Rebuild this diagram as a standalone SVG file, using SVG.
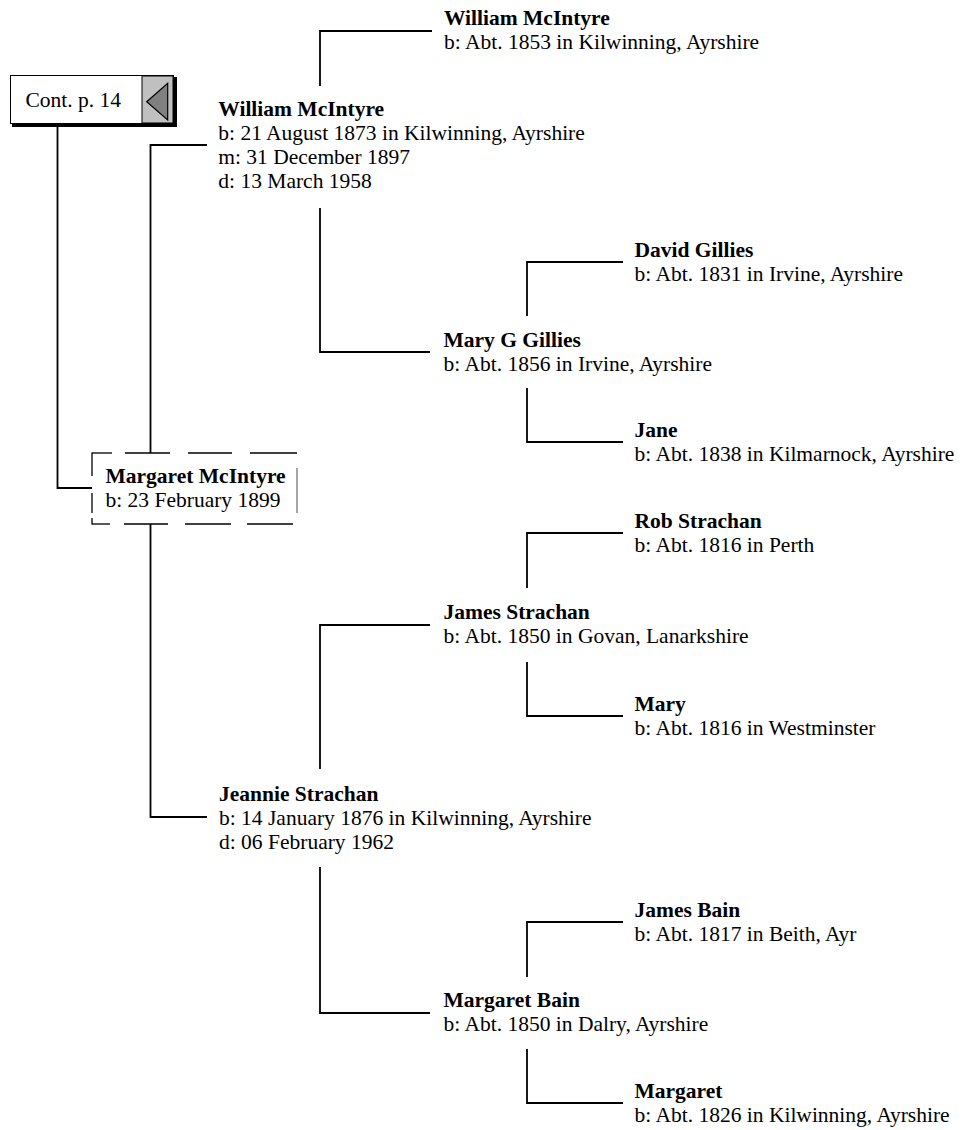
<svg xmlns="http://www.w3.org/2000/svg" width="963" height="1130" viewBox="0 0 963 1130">
<style>
text{font-family:'Liberation Serif',Tinos,'Times New Roman',Times,serif;font-size:21.5px;fill:#000}
.n{font-weight:bold}
.c{fill:none;stroke:#000;stroke-width:1.8}
.d{stroke:#000;stroke-width:1.3}
</style>
<rect width="963" height="1130" fill="#fff"/>
<g id="connectors">
<path class="c" d="M57.5,127 V488 H92"/>
<path class="c" d="M207,145 H150.5 V453"/>
<path class="c" d="M150.5,524 V817 H207"/>
<path class="c" d="M432,31 H320 V86"/>
<path class="c" d="M320,208 V352 H430"/>
<path class="c" d="M623,262 H527 V316"/>
<path class="c" d="M527,388 V442 H623"/>
<path class="c" d="M623,533 H527 V588"/>
<path class="c" d="M430,625 H320 V769"/>
<path class="c" d="M527,662 V716 H623"/>
<path class="c" d="M320,867 V1013 H430"/>
<path class="c" d="M623,922 H527 V977"/>
<path class="c" d="M527,1049 V1103 H623"/>
</g>
<g id="cont">
<rect x="12" y="77" width="165" height="50" fill="#000"/>
<rect x="10.5" y="75.5" width="163" height="48" fill="#fff" stroke="#000" stroke-width="1"/>
<rect x="142" y="76" width="31" height="47" fill="#c0c0c0" stroke="#000" stroke-width="1"/>
<polygon points="146.7,101.7 167.7,83.3 167.7,120" fill="#808080" stroke="#000" stroke-width="1.2"/>
<text x="25.5" y="106.7">Cont. p. 14</text>
</g>
<g id="margaret-mcintyre">
<g class="d">
<line x1="92" y1="453" x2="112" y2="453"/>
<line x1="125" y1="453" x2="170" y2="453"/>
<line x1="188" y1="453" x2="232" y2="453"/>
<line x1="250" y1="453" x2="297" y2="453"/>
<line x1="92" y1="524" x2="110" y2="524"/>
<line x1="124" y1="524" x2="168" y2="524"/>
<line x1="185" y1="524" x2="231" y2="524"/>
<line x1="247" y1="524" x2="293" y2="524"/>
<line x1="92" y1="452.4" x2="92" y2="476"/>
<line x1="92" y1="493" x2="92" y2="513"/>
<line x1="92" y1="518" x2="92" y2="524.6"/>
</g>
<line x1="297" y1="468" x2="297" y2="513" stroke="#888" stroke-width="1.5"/>
<text class="n" x="105.5" y="482.5">Margaret McIntyre</text>
<text x="105.5" y="506.5">b: 23 February 1899</text>
</g>
<g id="william-mcintyre-sr">
<text class="n" x="444" y="25">William McIntyre</text>
<text x="444" y="49">b: Abt. 1853 in Kilwinning, Ayrshire</text>
</g>
<g id="william-mcintyre">
<text class="n" x="218.3" y="116">William McIntyre</text>
<text x="218.3" y="140">b: 21 August 1873 in Kilwinning, Ayrshire</text>
<text x="218.3" y="164">m: 31 December 1897</text>
<text x="218.3" y="188">d: 13 March 1958</text>
</g>
<g id="david-gillies">
<text class="n" x="634.5" y="257">David Gillies</text>
<text x="634.5" y="281">b: Abt. 1831 in Irvine, Ayrshire</text>
</g>
<g id="mary-g-gillies">
<text class="n" x="443.5" y="347">Mary G Gillies</text>
<text x="443.5" y="371">b: Abt. 1856 in Irvine, Ayrshire</text>
</g>
<g id="jane">
<text class="n" x="634.5" y="437">Jane</text>
<text x="634.5" y="461">b: Abt. 1838 in Kilmarnock, Ayrshire</text>
</g>
<g id="rob-strachan">
<text class="n" x="634.5" y="528">Rob Strachan</text>
<text x="634.5" y="552">b: Abt. 1816 in Perth</text>
</g>
<g id="james-strachan">
<text class="n" x="443.5" y="619">James Strachan</text>
<text x="443.5" y="643">b: Abt. 1850 in Govan, Lanarkshire</text>
</g>
<g id="mary">
<text class="n" x="634.5" y="711">Mary</text>
<text x="634.5" y="735">b: Abt. 1816 in Westminster</text>
</g>
<g id="jeannie-strachan">
<text class="n" x="219" y="801">Jeannie Strachan</text>
<text x="219" y="825">b: 14 January 1876 in Kilwinning, Ayrshire</text>
<text x="219" y="849">d: 06 February 1962</text>
</g>
<g id="james-bain">
<text class="n" x="634.5" y="917">James Bain</text>
<text x="634.5" y="941">b: Abt. 1817 in Beith, Ayr</text>
</g>
<g id="margaret-bain">
<text class="n" x="443.5" y="1007">Margaret Bain</text>
<text x="443.5" y="1031">b: Abt. 1850 in Dalry, Ayrshire</text>
</g>
<g id="margaret">
<text class="n" x="634.5" y="1098">Margaret</text>
<text x="634.5" y="1122">b: Abt. 1826 in Kilwinning, Ayrshire</text>
</g>
</svg>
